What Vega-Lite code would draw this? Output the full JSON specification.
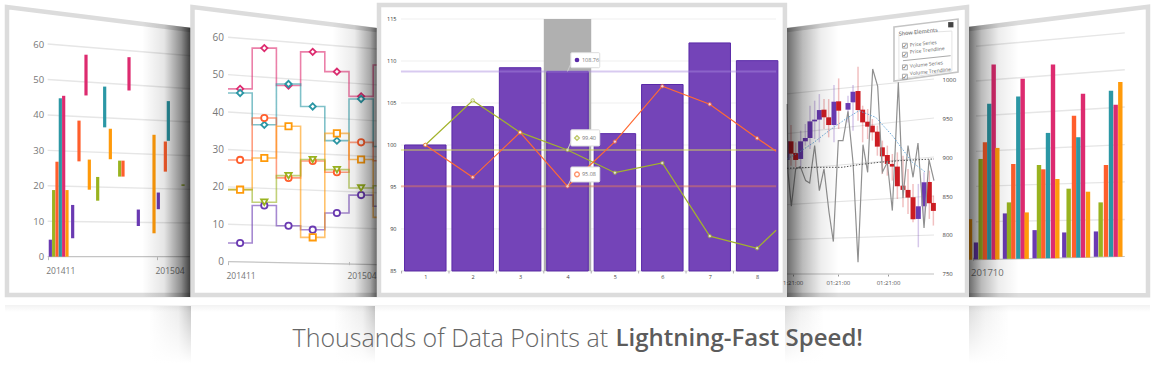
{
"$schema":"https://vega.github.io/schema/vega-lite/v6.json",
"padding":{"left":-3,"top":-3,"right":0,"bottom":0},"background":"white","spacing":0,
"resolve":{"scale":{"color":"independent","shape":"independent","size":"independent","stroke":"independent"}},
"config":{"view":{"stroke":null},"concat":{"spacing":0},"font":"Open Sans","axis":{"title":null,"grid":false,"domain":false}},
"vconcat":[
{"resolve":{"scale":{"color":"independent","shape":"independent","size":"independent","stroke":"independent"}},
"hconcat":[
{"width":192,"height":298,
"encoding":{"x":{"field":"x","type":"quantitative","scale":{"domain":[-2.225,6.554],"nice":false,"zero":false,"padding":0},"axis":{"values":[0,5],"labelExpr":"datum.value==0?'201411':'201504'","offset":-40.33,"tickSize":3,"tickColor":"#bbbbbb","labelPadding":7,"labelAlign":"left","labelOffset":-2,"labelFontSize":8.5,"labelColor":"#777777","labelFlush":false,"labelOverlap":false}},
"y":{"field":"y","type":"quantitative","scale":{"domain":[-11.38,72.72],"nice":false,"zero":false,"padding":0},"axis":{"values":[0,10,20,30,40,50,60],"offset":-48.67,"ticks":false,"labelPadding":4,"labelFontSize":9.5,"labelColor":"#777777"}}},
"layer":[
{"data":{"values":[{"x":0,"y":60,"x2":6.554,"y2":56.7},{"x":0,"y":50,"x2":6.554,"y2":47.4},{"x":0,"y":40,"x2":6.554,"y2":38},{"x":0,"y":30,"x2":6.554,"y2":28.5},{"x":0,"y":20,"x2":6.554,"y2":19},{"x":0,"y":10,"x2":6.554,"y2":9.5}]},"mark":{"type":"rule","stroke":"#e6e6e6","strokeWidth":1.4},"encoding":{"x2":{"field":"x2"},"y2":{"field":"y2"}}},
{"data":{"values":[{"x":0,"y":0,"x2":6.5,"y2":0}]},"mark":{"type":"rule","stroke":"#c4c4c4","strokeWidth":1.2},"encoding":{"x2":{"field":"x2"},"y2":{"field":"y2"}}},
{"data":{"values":[
{"x":0.122,"y":4.8,"y2":0,"s":"purple"},{"x":0.274,"y":18.8,"y2":0,"s":"green"},{"x":0.427,"y":26.8,"y2":0,"s":"red"},{"x":0.579,"y":44.7,"y2":0,"s":"teal"},{"x":0.732,"y":45.4,"y2":0,"s":"pink"},{"x":0.884,"y":18.8,"y2":0,"s":"amber"},
{"x":1.143,"y":14.6,"y2":5.2,"s":"purple"},{"x":1.433,"y":38.4,"y2":26.9,"s":"red"},{"x":1.753,"y":57,"y2":45.5,"s":"pink"},{"x":1.905,"y":27.4,"y2":18.9,"s":"amber"},{"x":2.287,"y":22.5,"y2":15.8,"s":"green"},{"x":2.607,"y":48,"y2":36.5,"s":"teal"},{"x":2.866,"y":36.1,"y2":27.5,"s":"amber"},{"x":3.293,"y":27.1,"y2":22.6,"s":"green"},{"x":3.445,"y":27.1,"y2":22.6,"s":"red"},{"x":3.72,"y":56.3,"y2":46.9,"s":"pink"},{"x":4.146,"y":13.3,"y2":8.65,"s":"purple"},{"x":4.863,"y":34.4,"y2":6.6,"s":"amber"},{"x":5.06,"y":18.1,"y2":13.4,"s":"purple"},{"x":5.381,"y":32.5,"y2":24,"s":"red"},{"x":5.518,"y":43.9,"y2":32.7,"s":"teal"},{"x":6.19,"y":20.4,"y2":20,"s":"green"}]},
"mark":{"type":"bar","size":3.2},"encoding":{"y2":{"field":"y2"},"color":{"field":"s","type":"nominal","legend":null,"scale":{"domain":["purple","green","red","teal","pink","amber"],"range":["#6a3ab2","#99b31f","#ff5e2c","#2b97a5","#dd2b6f","#ff9a0a"]}}}},
{"data":{"values":[{"o":1,"x":6.554,"y":-10.82},{"o":2,"x":-1.86,"y":-10.82},{"o":3,"x":-1.86,"y":70.47},{"o":4,"x":6.554,"y":63.97}]},"mark":{"type":"line","stroke":"#dcdcdc","strokeWidth":4.5,"strokeJoin":"miter"},"encoding":{"order":{"field":"o"}}},
{"data":{"values":[{"x":4.316,"y":66.3,"y2":-11.38},{"x":6.554,"y":64.6,"y2":-11.38}]},"mark":{"type":"area","orient":"vertical","fill":{"gradient":"linear","x1":0,"x2":1,"y1":0,"y2":0,"stops":[{"offset":0,"color":"rgba(0,0,0,0)"},{"offset":0.45,"color":"rgba(0,0,0,0.1)"},{"offset":0.8,"color":"rgba(0,0,0,0.45)"},{"offset":1,"color":"rgba(0,0,0,0.78)"}]}},"encoding":{"y2":{"field":"y2"}}}
]},
{"width":186,"height":298,
"encoding":{"x":{"field":"x","type":"quantitative","scale":{"domain":[-1.529,6.157],"nice":false,"zero":false,"padding":0},"axis":{"values":[0,5],"labelExpr":"datum.value==0?'201411':'201504'","offset":-35.33,"tickSize":3,"tickColor":"#bbbbbb","labelPadding":7,"labelAlign":"left","labelOffset":-2,"labelFontSize":8.5,"labelColor":"#777777","labelFlush":false,"labelOverlap":false}},
"y":{"field":"y","type":"quantitative","scale":{"domain":[-9.45,70.23],"nice":false,"zero":false,"padding":0},"axis":{"values":[0,10,20,30,40,50,60],"offset":-37,"ticks":false,"labelPadding":4.5,"labelFontSize":10,"labelColor":"#777777"}}},
"layer":[
{"data":{"values":[{"x":0,"y":60,"x2":6.157,"y2":56.88},{"x":0,"y":50,"x2":6.157,"y2":47.27},{"x":0,"y":40,"x2":6.157,"y2":37.65},{"x":0,"y":30,"x2":6.157,"y2":28.04},{"x":0,"y":20,"x2":6.157,"y2":18.43},{"x":0,"y":10,"x2":6.157,"y2":8.81}]},"mark":{"type":"rule","stroke":"#e6e6e6","strokeWidth":1.4},"encoding":{"x2":{"field":"x2"},"y2":{"field":"y2"}}},
{"data":{"values":[{"x":0,"y":0,"x2":6.157,"y2":-0.8}]},"mark":{"type":"rule","stroke":"#c4c4c4","strokeWidth":1.2},"encoding":{"x2":{"field":"x2"},"y2":{"field":"y2"}}},
{"data":{"name":"steps","values":[
{"s":"purple","x":0,"mid":0.5,"y":4.99},{"s":"purple","x":1,"mid":1.5,"y":15},{"s":"purple","x":2,"mid":2.5,"y":9.6},{"s":"purple","x":3,"mid":3.5,"y":8.55},{"s":"purple","x":4,"mid":4.5,"y":13},{"s":"purple","x":5,"mid":5.5,"y":17.8},{"s":"purple","x":6,"y":14.8},{"s":"purple","x":6.157,"y":14.8},
{"s":"pink","x":0,"mid":0.5,"y":46.2},{"s":"pink","x":1,"mid":1.5,"y":57.1},{"s":"pink","x":2,"mid":2.5,"y":47.1},{"s":"pink","x":3,"mid":3.5,"y":56.1},{"s":"pink","x":4,"mid":4.5,"y":50.8},{"s":"pink","x":5,"mid":5.5,"y":44.2},{"s":"pink","x":6,"y":52.6},{"s":"pink","x":6.157,"y":52.6},
{"s":"teal","x":0,"mid":0.5,"y":45.1},{"s":"teal","x":1,"mid":1.5,"y":36.6},{"s":"teal","x":2,"mid":2.5,"y":47.5},{"s":"teal","x":3,"mid":3.5,"y":41.5},{"s":"teal","x":4,"mid":4.5,"y":32.35},{"s":"teal","x":5,"mid":5.5,"y":43.5},{"s":"teal","x":6,"y":30.8},{"s":"teal","x":6.157,"y":30.8},
{"s":"red","x":0,"mid":0.5,"y":27.2},{"s":"red","x":1,"mid":1.5,"y":38.4},{"s":"red","x":2,"mid":2.5,"y":22.4},{"s":"red","x":3,"mid":3.5,"y":26.9},{"s":"red","x":4,"mid":4.5,"y":23.9},{"s":"red","x":5,"mid":5.5,"y":31.9},{"s":"red","x":6,"y":27},{"s":"red","x":6.157,"y":27},
{"s":"amber","x":0,"mid":0.5,"y":19.25},{"s":"amber","x":1,"mid":1.5,"y":27.7},{"s":"amber","x":2,"mid":2.5,"y":36.2},{"s":"amber","x":3,"mid":3.5,"y":6.5},{"s":"amber","x":4,"mid":4.5,"y":34.3},{"s":"amber","x":5,"mid":5.5,"y":27.3},{"s":"amber","x":6,"y":11.85},{"s":"amber","x":6.157,"y":11.85},
{"s":"green","x":0,"y":19.25},{"s":"green","x":1,"mid":1.5,"y":15.9},{"s":"green","x":2,"mid":2.5,"y":23},{"s":"green","x":3,"mid":3.5,"y":27.3},{"s":"green","x":4,"mid":4.5,"y":24.6},{"s":"green","x":5,"mid":5.5,"y":19.7},{"s":"green","x":6,"y":20.3},{"s":"green","x":6.157,"y":20.3}]},
"mark":{"type":"line","interpolate":"step-after","strokeWidth":1.6,"opacity":0.6},"encoding":{"color":{"field":"s","type":"nominal","legend":null,"scale":{"domain":["purple","green","red","teal","pink","amber"],"range":["#6a3ab2","#99b31f","#ff5e2c","#2b97a5","#dd2b6f","#ff9a0a"]}}}},
{"data":{"name":"steps"},"mark":{"type":"point","filled":false,"fill":"white","strokeWidth":1.8,"opacity":1},"encoding":{"x":{"field":"mid","type":"quantitative"},"color":{"field":"s","type":"nominal","legend":null,"scale":{"domain":["purple","green","red","teal","pink","amber"],"range":["#6a3ab2","#99b31f","#ff5e2c","#2b97a5","#dd2b6f","#ff9a0a"]}},"shape":{"field":"s","type":"nominal","legend":null,"scale":{"domain":["purple","green","red","teal","pink","amber"],"range":["circle","triangle-down","circle","diamond","diamond","square"]}},"size":{"field":"s","type":"nominal","legend":null,"scale":{"domain":["purple","green","red","teal","pink","amber"],"range":[40,40,22,24,30,42]}}}},
{"data":{"values":[{"o":1,"x":6.157,"y":-8.91},{"o":2,"x":-1.467,"y":-8.91},{"o":3,"x":-1.467,"y":68.09},{"o":4,"x":6.157,"y":61.94}]},"mark":{"type":"line","stroke":"#dcdcdc","strokeWidth":4.5,"strokeJoin":"miter"},"encoding":{"order":{"field":"o"}}},
{"data":{"values":[{"x":4.3,"y":64,"y2":-9.45},{"x":6.157,"y":62.5,"y2":-9.45}]},"mark":{"type":"area","orient":"vertical","fill":{"gradient":"linear","x1":0,"x2":1,"y1":0,"y2":0,"stops":[{"offset":0,"color":"rgba(0,0,0,0)"},{"offset":0.5,"color":"rgba(0,0,0,0.08)"},{"offset":0.85,"color":"rgba(0,0,0,0.35)"},{"offset":1,"color":"rgba(0,0,0,0.6)"}]}},"encoding":{"y2":{"field":"y2"}}}
]},
{"width":410,"height":298,
"encoding":{"x":{"field":"x","type":"quantitative","scale":{"domain":[-0.0186,8.63],"nice":false,"zero":false,"padding":0},"axis":{"values":[1,2,3,4,5,6,7,8],"offset":-26,"ticks":false,"labelPadding":3,"labelFontSize":5.5,"labelColor":"#444444","format":"d"}},
"y":{"field":"y","type":"quantitative","scale":{"domain":[81.9,117.38],"nice":false,"zero":false,"padding":0},"axis":{"values":[85,90,95,100,105,110,115],"offset":-24,"ticks":false,"labelPadding":5,"labelFontSize":5.5,"labelColor":"#333333"}}},
"layer":[
{"data":{"values":[{"x":0.487,"x2":8.4,"y":90},{"x":0.487,"x2":8.4,"y":95},{"x":0.487,"x2":8.4,"y":100},{"x":0.487,"x2":8.4,"y":105},{"x":0.487,"x2":8.4,"y":110},{"x":0.487,"x2":8.4,"y":115}]},"mark":{"type":"rule","stroke":"#f0f0f0","strokeWidth":1.2},"encoding":{"x2":{"field":"x2"}}},
{"data":{"values":[{"x":0.487,"x2":8.4,"y":85}]},"mark":{"type":"rule","stroke":"#dddddd","strokeWidth":1},"encoding":{"x2":{"field":"x2"}}},
{"data":{"values":[{"x":0.5,"y":85,"y2":84.7},{"x":1.5,"y":85,"y2":84.7},{"x":2.5,"y":85,"y2":84.7},{"x":3.5,"y":85,"y2":84.7},{"x":4.5,"y":85,"y2":84.7},{"x":5.5,"y":85,"y2":84.7},{"x":6.5,"y":85,"y2":84.7},{"x":7.5,"y":85,"y2":84.7}]},"mark":{"type":"rule","stroke":"#999999","strokeWidth":0.8},"encoding":{"y2":{"field":"y2"}}},
{"data":{"values":[{"x":3.5,"x2":4.5,"y":115,"y2":85}]},"mark":{"type":"rect","fill":"#b0b0b0"},"encoding":{"x2":{"field":"x2"},"y2":{"field":"y2"}}},
{"data":{"values":[{"x":1,"y":100},{"x":2,"y":104.56},{"x":3,"y":109.2},{"x":4,"y":108.76},{"x":5,"y":101.35},{"x":6,"y":107.2},{"x":7,"y":112.15},{"x":8,"y":110.04}]},"mark":{"type":"bar","size":41.5,"fill":"#7444b8","stroke":"#5a2aa8","strokeWidth":1},"encoding":{"y2":{"datum":85}}},
{"data":{"values":[{"x":0.487,"x2":8.4,"y":108.76,"s":"p"},{"x":0.487,"x2":8.4,"y":99.4,"s":"g"},{"x":0.487,"x2":8.4,"y":95.08,"s":"o"}]},"mark":{"type":"rule","strokeWidth":2,"opacity":0.45},"encoding":{"x2":{"field":"x2"},"color":{"field":"s","type":"nominal","legend":null,"scale":{"domain":["p","g","o"],"range":["#a98ade","#d8de50","#f08050"]}}}},
{"data":{"name":"lines","values":[
{"s":"g","x":1,"y":100},{"s":"g","x":2,"y":105.3},{"s":"g","x":3,"y":101.5},{"s":"g","x":4,"y":99.4},{"s":"g","x":5,"y":96.7},{"s":"g","x":6,"y":97.85},{"s":"g","x":7,"y":89.15},{"s":"g","x":8,"y":87.7},{"s":"g","x":8.4,"y":89.85},
{"s":"o","x":1,"y":100},{"s":"o","x":2,"y":96.15},{"s":"o","x":3,"y":101.5},{"s":"o","x":4,"y":95.08},{"s":"o","x":5,"y":100.4},{"s":"o","x":6,"y":107},{"s":"o","x":7,"y":104.85},{"s":"o","x":8,"y":100.8},{"s":"o","x":8.4,"y":99.25}]},
"mark":{"type":"line","strokeWidth":1.2},"encoding":{"stroke":{"field":"s","type":"nominal","legend":null,"scale":{"domain":["g","o"],"range":["#a3b32c","#ff6a33"]}}}},
{"data":{"name":"lines"},"transform":[{"filter":"datum.x<=8"}],"mark":{"type":"point","filled":false,"fill":"white","size":12,"strokeWidth":1},"encoding":{"stroke":{"field":"s","type":"nominal","legend":null,"scale":{"domain":["g","o"],"range":["#a3b32c","#ff6a33"]}}}},
{"data":{"values":[{"x":4,"y":108.76,"x2":4.08,"y2":109.8},{"x":4,"y":99.4,"x2":4.08,"y2":100.5},{"x":4,"y":95.08,"x2":4.08,"y2":96}]},"mark":{"type":"rule","stroke":"#cccccc","strokeWidth":1},"encoding":{"x2":{"field":"x2"},"y2":{"field":"y2"}}},
{"data":{"values":[{"x":4.07,"x2":4.68,"y":110.99,"y2":109.2},{"x":4.07,"x2":4.68,"y":101.8,"y2":99.88},{"x":4.07,"x2":4.68,"y":97.38,"y2":95.6}]},"mark":{"type":"rect","fill":"white","stroke":"#dddddd","strokeWidth":1,"cornerRadius":1},"encoding":{"x2":{"field":"x2"},"y2":{"field":"y2"}}},
{"data":{"values":[{"x":4.2,"y":110.12}]},"mark":{"type":"point","shape":"circle","filled":true,"size":22,"fill":"#5a2aa8","opacity":1}},
{"data":{"values":[{"x":4.2,"y":100.83}]},"mark":{"type":"point","shape":"diamond","filled":false,"fill":"white","size":22,"stroke":"#a3b32c","strokeWidth":1.4}},
{"data":{"values":[{"x":4.2,"y":96.5}]},"mark":{"type":"point","shape":"circle","filled":false,"fill":"white","size":22,"stroke":"#ff6a33","strokeWidth":1.4}},
{"data":{"values":[{"x":4.305,"y":110.12,"t":"108.76"},{"x":4.305,"y":100.83,"t":"99.40"},{"x":4.305,"y":96.5,"t":"95.08"}]},"mark":{"type":"text","align":"left","baseline":"middle","fontSize":5.5,"fill":"#777777"},"encoding":{"text":{"field":"t"}}},
{"data":{"values":[{"x":0.0232,"x2":8.586,"y":116.67,"y2":82.14}]},"mark":{"type":"rect","fill":null,"stroke":"#dcdcdc","strokeWidth":4.5},"encoding":{"x2":{"field":"x2"},"y2":{"field":"y2"}}}
]},
{"width":182,"height":298,
"encoding":{"x":{"field":"x","type":"quantitative","scale":{"domain":[-0.753,36.64],"nice":false,"zero":false,"padding":0},"axis":{"values":[0.4,9.7,20],"labelExpr":"datum.value<1?'1:21:00':'01:21:00'","offset":-23,"tickSize":2,"tickColor":"#999999","labelPadding":3,"labelFontSize":6,"labelColor":"#555555","labelFlush":false,"labelOverlap":false}},
"y":{"field":"y","type":"quantitative","scale":{"domain":[720.5,1102.6],"nice":false,"zero":false,"padding":0},"axis":{"orient":"right","values":[750,800,850,900,950,1000],"format":"d","offset":-27,"ticks":false,"labelPadding":0,"labelFontSize":6,"labelColor":"#444444"}}},
"layer":[
{"data":{"values":[{"x":-0.753,"y":794,"x2":29.45,"y2":800},{"x":-0.753,"y":839,"x2":29.45,"y2":850},{"x":-0.753,"y":884,"x2":29.45,"y2":900},{"x":-0.753,"y":930,"x2":29.45,"y2":950},{"x":-0.753,"y":981,"x2":29.45,"y2":1000}]},"mark":{"type":"rule","stroke":"#e4e4e4","strokeWidth":1.2},"encoding":{"x2":{"field":"x2"},"y2":{"field":"y2"}}},
{"data":{"values":[{"x":-0.753,"y":750,"x2":29.45,"y2":750}]},"mark":{"type":"rule","stroke":"#c0c0c0","strokeWidth":1.2},"encoding":{"x2":{"field":"x2"},"y2":{"field":"y2"}}},
{"data":{"name":"candles","values":[
{"x":-0.75,"s":"up","y":920.1,"y2":896.2,"hi":942.3,"lo":884.7},{"x":0.07,"s":"down","y":920.1,"y2":904.3,"hi":941,"lo":888.9},{"x":1.03,"s":"down","y":905.2,"y2":896.2,"hi":918.8,"lo":886.8},{"x":2.05,"s":"up","y":920.1,"y2":897.5,"hi":933.8,"lo":884.7},{"x":3.01,"s":"up","y":924.4,"y2":920.1,"hi":942.3,"lo":914.6},{"x":3.97,"s":"up","y":945.7,"y2":924.4,"hi":965.8,"lo":910.3},{"x":4.93,"s":"up","y":947.9,"y2":945.7,"hi":972.2,"lo":923.1},{"x":5.89,"s":"up","y":960.2,"y2":947.9,"hi":980.7,"lo":918.8},{"x":6.85,"s":"down","y":960.7,"y2":950.9,"hi":974.3,"lo":935.9},{"x":7.81,"s":"down","y":950.9,"y2":941,"hi":974.3,"lo":925.2},{"x":8.9,"s":"up","y":970.9,"y2":941,"hi":992.3,"lo":918.8},{"x":9.86,"s":"down","y":971.4,"y2":959.4,"hi":1000.8,"lo":935.9},{"x":11.78,"s":"up","y":969.2,"y2":960.7,"hi":978.6,"lo":944.4},{"x":12.81,"s":"up","y":983.7,"y2":970.1,"hi":992.3,"lo":933.8},{"x":13.84,"s":"down","y":984.6,"y2":960.2,"hi":1015.8,"lo":946.6},{"x":14.79,"s":"down","y":960.7,"y2":944.4,"hi":965.8,"lo":918.8},{"x":15.82,"s":"down","y":945.3,"y2":938.9,"hi":961.5,"lo":923.1},{"x":16.78,"s":"down","y":940.2,"y2":931.6,"hi":948.7,"lo":921},{"x":17.81,"s":"down","y":932.5,"y2":913.3,"hi":940.2,"lo":901.7},{"x":18.84,"s":"down","y":912.4,"y2":900.9,"hi":921,"lo":878.3},{"x":19.86,"s":"down","y":902.6,"y2":891.1,"hi":914.6,"lo":876.1},{"x":20.89,"s":"down","y":891.1,"y2":887.7,"hi":903.9,"lo":869.7},{"x":21.92,"s":"down","y":887.7,"y2":862.5,"hi":906,"lo":846.2},{"x":23.08,"s":"down","y":863.3,"y2":857.8,"hi":901.7,"lo":835.6},{"x":24.11,"s":"down","y":857.8,"y2":848,"hi":884.7,"lo":827},{"x":25.14,"s":"down","y":848.4,"y2":820.2,"hi":865.5,"lo":816.4},{"x":26.23,"s":"up","y":836.8,"y2":820.6,"hi":865.5,"lo":784.3},{"x":27.4,"s":"up","y":867.6,"y2":836.8,"hi":880.4,"lo":820.6},{"x":28.49,"s":"down","y":868,"y2":840.7,"hi":882.5,"lo":820.6},{"x":29.32,"s":"down","y":841.1,"y2":830.9,"hi":850.5,"lo":812.1}]},
"mark":{"type":"rule","strokeWidth":1.5,"opacity":0.28,"clip":true},"encoding":{"y":{"field":"hi","type":"quantitative"},"y2":{"field":"lo"},"color":{"field":"s","type":"nominal","legend":null,"scale":{"domain":["up","down"],"range":["#6a3ab2","#cc1c22"]}}}},
{"data":{"name":"candles"},"mark":{"type":"bar","size":5,"clip":true},"encoding":{"y2":{"field":"y2"},"color":{"field":"s","type":"nominal","legend":null,"scale":{"domain":["up","down"],"range":["#6a3ab2","#cc1c22"]}}}},
{"data":{"values":[{"x":-0.75,"y":967.9},{"x":-0.55,"y":880.4},{"x":0.14,"y":836.8},{"x":1.03,"y":884.7},{"x":1.99,"y":887.7},{"x":3.08,"y":869.7},{"x":3.9,"y":866.7},{"x":4.93,"y":914.6},{"x":5.89,"y":856.9},{"x":6.85,"y":884.7},{"x":7.88,"y":829.2},{"x":8.77,"y":791.6},{"x":9.79,"y":921},{"x":10.75,"y":921},{"x":11.78,"y":958.5},{"x":12.81,"y":893.2},{"x":13.84,"y":765.1},{"x":14.86,"y":915.8},{"x":15.82,"y":880.4},{"x":16.85,"y":1012.8},{"x":17.88,"y":990.6},{"x":18.84,"y":880.4},{"x":19.86,"y":893.2},{"x":20.89,"y":831.3},{"x":22.12,"y":995.7},{"x":23.08,"y":847.5},{"x":24.11,"y":914.6},{"x":25.14,"y":874},{"x":26.16,"y":918},{"x":27.4,"y":809.1},{"x":28.42,"y":896.6},{"x":29.45,"y":869.7}]},"mark":{"type":"line","stroke":"#909090","strokeWidth":1.2}},
{"data":{"values":[{"x":-0.75,"y":897.5},{"x":1.71,"y":906},{"x":4.79,"y":918.8},{"x":7.88,"y":933.8},{"x":11.3,"y":948.7},{"x":14.04,"y":959.4},{"x":17.47,"y":950.9},{"x":20.89,"y":927.4},{"x":25,"y":893.2},{"x":27.74,"y":880.4}]},"mark":{"type":"line","stroke":"#6aa8d8","strokeWidth":1,"strokeDash":[1.5,1.5]}},
{"data":{"values":[{"x":-0.75,"y":885.5},{"x":4.45,"y":886.8},{"x":10.62,"y":886.8},{"x":14.04,"y":890.2},{"x":18.15,"y":893.2},{"x":22.26,"y":895.3},{"x":29.45,"y":897.5}]},"mark":{"type":"line","stroke":"#555555","strokeWidth":1,"strokeDash":[1.5,1.5]}},
{"data":{"values":[{"o":1,"x":-0.753,"y":723.1},{"o":2,"x":36.23,"y":723.1},{"o":3,"x":36.23,"y":1092.3},{"o":4,"x":-0.753,"y":1062.8}]},"mark":{"type":"line","stroke":"#dcdcdc","strokeWidth":4.5,"strokeJoin":"miter"},"encoding":{"order":{"field":"o"}}},
{"data":{"values":[{"x":-0.753,"y":1065.4,"y2":720.5},{"x":9.93,"y":1073.9,"y2":720.5}]},"mark":{"type":"area","orient":"vertical","fill":{"gradient":"linear","x1":0,"x2":1,"y1":0,"y2":0,"stops":[{"offset":0,"color":"rgba(0,0,0,0.58)"},{"offset":0.3,"color":"rgba(0,0,0,0.27)"},{"offset":0.65,"color":"rgba(0,0,0,0.07)"},{"offset":1,"color":"rgba(0,0,0,0)"}]}},"encoding":{"y2":{"field":"y2"}}},
{"data":{"values":[{"x":21.23,"y":1066.7,"y2":997.4},{"x":34.38,"y":1076.9,"y2":1009}]},"mark":{"type":"area","orient":"vertical","fill":"white","stroke":"#c4c4c4","strokeWidth":1.6},"encoding":{"y2":{"field":"y2"}}},
{"data":{"values":[{"o":1,"x":22.24,"y":1057.7},{"o":2,"x":33.13,"y":1061.5},{"o":3,"x":33.13,"y":1010.3},{"o":4,"x":22.24,"y":1000},{"o":5,"x":22.24,"y":1057.7}]},"mark":{"type":"line","stroke":"#e4e4e4","strokeWidth":1},"encoding":{"order":{"field":"o"}}},
{"data":{"values":[{"x":23.07,"y":1023.5,"x2":32.87,"y2":1029.9}]},"mark":{"type":"rule","stroke":"#aaaaaa","strokeWidth":1},"encoding":{"x2":{"field":"x2"},"y2":{"field":"y2"}}},
{"data":{"values":[{"x":32.9,"y":1069.6}]},"mark":{"type":"point","shape":"square","filled":true,"fill":"#444444","size":28,"opacity":1}},
{"data":{"values":[{"x":23.47,"y":1042.7},{"x":23.47,"y":1031.2},{"x":23.47,"y":1015},{"x":23.47,"y":1003}]},"mark":{"type":"point","shape":"square","filled":false,"fill":"white","stroke":"#888888","size":24,"strokeWidth":1}},
{"data":{"values":[{"x":23.47,"y":1042.7,"t":"✓"},{"x":23.47,"y":1031.2,"t":"✓"},{"x":23.47,"y":1015,"t":"✓"},{"x":23.47,"y":1003,"t":"✓"}]},"mark":{"type":"text","font":"DejaVu Sans","fontSize":6.5,"fill":"#555555","baseline":"middle"},"encoding":{"text":{"field":"t"}}},
{"data":{"values":[{"x":26.2,"y":1060.6,"t":"Show Elements"}]},"mark":{"type":"text","fontSize":5.5,"fill":"#555555","angle":354,"baseline":"middle"},"encoding":{"text":{"field":"t"}}},
{"data":{"values":[{"x":24.5,"y":1044,"t":"Price Series"},{"x":24.5,"y":1035,"t":"Price Trendline"},{"x":24.5,"y":1017,"t":"Volume Series"},{"x":24.5,"y":1007.3,"t":"Volume Trendline"}]},"mark":{"type":"text","align":"left","fontSize":5,"fill":"#666666","angle":354,"baseline":"middle"},"encoding":{"text":{"field":"t"}}}
]},
{"width":186,"height":298,
"encoding":{"x":{"field":"x","type":"quantitative","scale":{"domain":[-0.233,5.967],"nice":false,"zero":false,"padding":0},"axis":{"values":[-0.089],"labelExpr":"'201710'","offset":-39.7,"tickSize":3,"tickColor":"#bbbbbb","labelPadding":7,"labelAlign":"left","labelOffset":-2.7,"labelFontSize":9.5,"labelColor":"#777777","labelFlush":false,"labelOverlap":false}},
"y":{"field":"y","type":"quantitative","scale":{"domain":[-10.6,69.4],"nice":false,"zero":false,"padding":0},"axis":null}},
"layer":[
{"data":{"values":[{"x":0,"y":56.7,"x2":4.96,"y2":60.3},{"x":0,"y":47.4,"x2":4.96,"y2":50.4},{"x":0,"y":38,"x2":4.96,"y2":40.4},{"x":0,"y":28.5,"x2":4.96,"y2":30.3},{"x":0,"y":19.1,"x2":4.96,"y2":20.3},{"x":0,"y":9.6,"x2":4.96,"y2":10.2}]},"mark":{"type":"rule","stroke":"#e6e6e6","strokeWidth":1.4},"encoding":{"x2":{"field":"x2"},"y2":{"field":"y2"}}},
{"data":{"values":[{"x":-0.089,"y":-0.6,"x2":4.96,"y2":0.27}]},"mark":{"type":"rule","stroke":"#c4c4c4","strokeWidth":1.2},"encoding":{"x2":{"field":"x2"},"y2":{"field":"y2"}}},
{"data":{"values":[
{"x":-0.2,"y":10.3,"y2":-0.6,"s":"amber"},
{"x":0,"y":4.04,"y2":-0.5,"s":"purple"},{"x":0.156,"y":26.46,"y2":-0.5,"s":"green"},{"x":0.3,"y":30.94,"y2":-0.5,"s":"red"},{"x":0.444,"y":41.26,"y2":-0.5,"s":"teal"},{"x":0.589,"y":51.84,"y2":-0.5,"s":"pink"},{"x":0.711,"y":29.42,"y2":-0.5,"s":"amber"},
{"x":0.967,"y":11.84,"y2":-0.35,"s":"purple"},{"x":1.1,"y":14.8,"y2":-0.35,"s":"green"},{"x":1.244,"y":25.11,"y2":-0.35,"s":"red"},{"x":1.411,"y":43.23,"y2":-0.35,"s":"teal"},{"x":1.556,"y":47.98,"y2":-0.35,"s":"pink"},{"x":1.689,"y":12.11,"y2":-0.35,"s":"amber"},
{"x":1.956,"y":7.35,"y2":-0.2,"s":"purple"},{"x":2.1,"y":24.84,"y2":-0.2,"s":"green"},{"x":2.244,"y":23.68,"y2":-0.2,"s":"red"},{"x":2.4,"y":33.45,"y2":-0.2,"s":"teal"},{"x":2.567,"y":51.84,"y2":-0.2,"s":"pink"},{"x":2.711,"y":21.08,"y2":-0.2,"s":"amber"},
{"x":2.944,"y":6.73,"y2":0,"s":"purple"},{"x":3.089,"y":18.48,"y2":0,"s":"green"},{"x":3.267,"y":38.03,"y2":0,"s":"red"},{"x":3.411,"y":32.29,"y2":0,"s":"teal"},{"x":3.567,"y":43.95,"y2":0,"s":"pink"},{"x":3.733,"y":17.67,"y2":0,"s":"amber"},
{"x":4,"y":7,"y2":0.2,"s":"purple"},{"x":4.156,"y":14.8,"y2":0.2,"s":"green"},{"x":4.333,"y":24.84,"y2":0.2,"s":"red"},{"x":4.5,"y":44.75,"y2":0.2,"s":"teal"},{"x":4.656,"y":40.99,"y2":0.2,"s":"pink"},{"x":4.811,"y":47.09,"y2":0.2,"s":"amber"}]},
"mark":{"type":"bar","size":4.4,"clip":true},"encoding":{"y2":{"field":"y2"},"color":{"field":"s","type":"nominal","legend":null,"scale":{"domain":["purple","green","red","teal","pink","amber"],"range":["#6a3ab2","#99b31f","#ff5e2c","#2b97a5","#dd2b6f","#ff9a0a"]}}}},
{"data":{"values":[{"o":1,"x":-0.233,"y":-10.13},{"o":2,"x":5.733,"y":-10.13},{"o":3,"x":5.733,"y":67.3},{"o":4,"x":-0.233,"y":61.36}]},"mark":{"type":"line","stroke":"#dcdcdc","strokeWidth":4.5,"strokeJoin":"miter"},"encoding":{"order":{"field":"o"}}},
{"data":{"values":[{"x":-0.233,"y":61.96,"y2":-10.6},{"x":1.433,"y":63.6,"y2":-10.6}]},"mark":{"type":"area","orient":"vertical","fill":{"gradient":"linear","x1":0,"x2":1,"y1":0,"y2":0,"stops":[{"offset":0,"color":"rgba(0,0,0,0.58)"},{"offset":0.25,"color":"rgba(0,0,0,0.27)"},{"offset":0.6,"color":"rgba(0,0,0,0.07)"},{"offset":1,"color":"rgba(0,0,0,0)"}]}},"encoding":{"y2":{"field":"y2"}}}
]}
],"spacing":0,"bounds":"flush"},
{"width":1156,"height":76,
"encoding":{"x":{"field":"x","type":"quantitative","scale":{"domain":[0,1156],"nice":false,"zero":false},"axis":null},
"y":{"field":"y","type":"quantitative","scale":{"domain":[82,6],"nice":false,"zero":false},"axis":null}},
"layer":[
{"data":{"values":[{"x":150,"x2":192,"y":3,"y2":76},{"x":335,"x2":376,"y":3,"y2":76}]},"mark":{"type":"rect","fill":{"gradient":"linear","x1":0,"x2":1,"y1":0,"y2":0,"stops":[{"offset":0,"color":"rgba(0,0,0,0)"},{"offset":0.7,"color":"rgba(0,0,0,0.08)"},{"offset":1,"color":"rgba(0,0,0,0.24)"}]}},"encoding":{"x2":{"field":"x2"},"y2":{"field":"y2"}}},
{"data":{"values":[{"x":786,"x2":825,"y":3,"y2":76},{"x":970,"x2":1010,"y":3,"y2":76}]},"mark":{"type":"rect","fill":{"gradient":"linear","x1":0,"x2":1,"y1":0,"y2":0,"stops":[{"offset":0,"color":"rgba(0,0,0,0.14)"},{"offset":0.4,"color":"rgba(0,0,0,0.06)"},{"offset":1,"color":"rgba(0,0,0,0)"}]}},"encoding":{"x2":{"field":"x2"},"y2":{"field":"y2"}}},
{"data":{"values":[{"x":0,"x2":1156,"y":3,"y2":60}]},"mark":{"type":"rect","fill":{"gradient":"linear","x1":0,"x2":0,"y1":0,"y2":1,"stops":[{"offset":0,"color":"rgba(255,255,255,0)"},{"offset":1,"color":"rgba(255,255,255,1)"}]}},"encoding":{"x2":{"field":"x2"},"y2":{"field":"y2"}}},
{"data":{"values":[{"x":0,"x2":1156,"y":60,"y2":82}]},"mark":{"type":"rect","fill":"white"},"encoding":{"x2":{"field":"x2"},"y2":{"field":"y2"}}},
{"data":{"values":[{"x":6,"x2":1151,"y":2,"y2":9}]},"mark":{"type":"rect","fill":{"gradient":"linear","x1":0,"x2":0,"y1":0,"y2":1,"stops":[{"offset":0,"color":"rgba(0,0,0,0.05)"},{"offset":1,"color":"rgba(0,0,0,0)"}]}},"encoding":{"x2":{"field":"x2"},"y2":{"field":"y2"}}},
{"data":{"values":[{"x":609,"y":36,"t":"Thousands of Data Points at"}]},"mark":{"type":"text","align":"right","baseline":"middle","font":"Open Sans","fontSize":25,"fontWeight":300,"fill":"#666666"},"encoding":{"text":{"field":"t"}}},
{"data":{"values":[{"x":616.5,"y":36,"t":"Lightning-Fast Speed!"}]},"mark":{"type":"text","align":"left","baseline":"middle","font":"Open Sans","fontSize":24,"fontWeight":600,"fill":"#5c5c5c"},"encoding":{"text":{"field":"t"}}}
]}
]}
